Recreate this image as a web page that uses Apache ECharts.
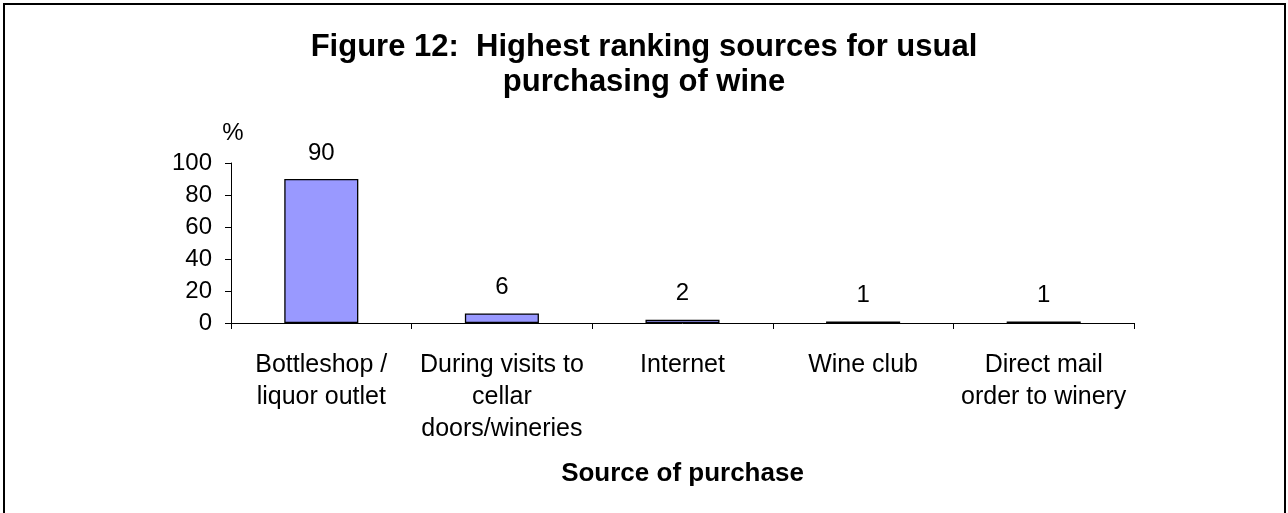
<!DOCTYPE html>
<html>
<head>
<meta charset="utf-8">
<script src="https://cdn.jsdelivr.net/npm/echarts@6/dist/echarts.min.js"></script>
<style>
  html, body { margin: 0; padding: 0; background: #fff; }
  #chart { width: 1288px; height: 513px; }
</style>
</head>
<body>
<div id="chart"></div>
<script>
// Share of respondents naming each source as their usual place to buy wine (%)
const categories = [
  'Bottleshop /\nliquor outlet',
  'During visits to\ncellar\ndoors/wineries',
  'Internet',
  'Wine club',
  'Direct mail\norder to winery'
];
const percentages = [90, 6, 2, 1, 1];
const yTicks = { min: 0, max: 100, interval: 20 };

const FONT = '"Liberation Sans", Arial, Helvetica, sans-serif';

const chart = echarts.init(document.getElementById('chart'), null, { renderer: 'canvas' });

chart.setOption({
  backgroundColor: '#fff',
  animation: false,
  title: {
    text: 'Figure 12:  Highest ranking sources for usual\npurchasing of wine',
    left: 'center',
    top: 30,
    padding: 0,
    textStyle: {
      fontFamily: FONT,
      fontSize: 31,
      fontWeight: 'bold',
      color: '#000',
      lineHeight: 35
    }
  },
  graphic: [
    {
      // frame around the chart; open at the bottom edge of the page
      type: 'rect',
      shape: { x: 4, y: 4, width: 1281, height: 530 },
      style: { fill: 'none', stroke: '#000', lineWidth: 2 },
      silent: true
    }
  ],
  grid: {
    left: 231,
    right: 154,
    top: 163,
    bottom: 190,
    containLabel: false
  },
  xAxis: {
    type: 'category',
    data: categories,
    boundaryGap: true,
    name: 'Source of purchase',
    nameLocation: 'middle',
    nameGap: 138,
    nameTextStyle: {
      fontFamily: FONT,
      fontSize: 26,
      fontWeight: 'bold',
      color: '#000'
    },
    axisLine: { show: true, lineStyle: { color: '#000', width: 1 } },
    axisTick: { show: true, length: 6, inside: false, alignWithLabel: false, lineStyle: { color: '#000' } },
    axisLabel: {
      interval: 0,
      margin: 26,
      fontFamily: FONT,
      fontSize: 25,
      lineHeight: 32,
      color: '#000',
      align: 'center',
      verticalAlign: 'top'
    },
    splitLine: { show: false }
  },
  yAxis: {
    type: 'value',
    min: yTicks.min,
    max: yTicks.max,
    interval: yTicks.interval,
    name: '%',
    nameLocation: 'end',
    nameGap: 18,
    nameTextStyle: {
      fontFamily: FONT,
      fontSize: 24,
      color: '#000',
      align: 'center',
      padding: [0, 0, 0, 4]
    },
    axisLine: { show: true, lineStyle: { color: '#000', width: 1 } },
    axisTick: { show: true, length: 6, inside: false, lineStyle: { color: '#000' } },
    axisLabel: {
      margin: 19,
      fontFamily: FONT,
      fontSize: 24,
      color: '#000'
    },
    splitLine: { show: false }
  },
  series: [
    {
      type: 'bar',
      data: percentages,
      barWidth: '41%',
      itemStyle: {
        color: '#9999FF',
        borderColor: '#000',
        borderWidth: 1.3
      },
      label: {
        show: true,
        position: 'top',
        distance: 14,
        fontFamily: FONT,
        fontSize: 24,
        color: '#000'
      }
    }
  ]
});
</script>
</body>
</html>
